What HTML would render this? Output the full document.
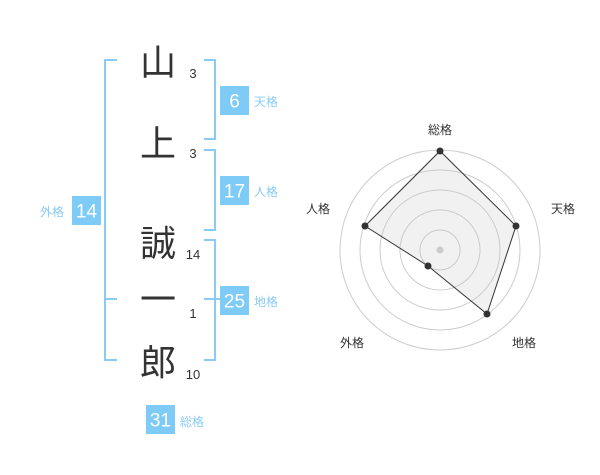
<!DOCTYPE html>
<html><head><meta charset="utf-8"><style>
body{margin:0;width:600px;height:470px;background:#fff;overflow:hidden}
svg text{font-family:"Liberation Sans","Noto Sans CJK JP",sans-serif}
</style></head><body>
<svg width="600" height="470" viewBox="0 0 600 470" xmlns="http://www.w3.org/2000/svg">
<g fill="none" stroke="#88ccf5" stroke-width="2">
<path d="M117 60H105V360H117M105 299H117"/>
<path d="M204 60H215V139H204"/>
<path d="M204 150H215V230H204"/>
<path d="M204 240H215V360H204M204 299H226"/>
</g>
<g fill="#333" font-size="36" text-anchor="middle">
<text x="158" y="75">山</text>
<text x="158" y="156">上</text>
<text x="158" y="256">誠</text>
<text x="158" y="312">一</text>
<text x="158" y="375">郎</text>
</g>
<g fill="#333" font-size="13" text-anchor="middle">
<text x="193" y="78">3</text>
<text x="193" y="158">3</text>
<text x="193" y="259">14</text>
<text x="193" y="318">1</text>
<text x="193" y="379">10</text>
</g>
<g fill="#7ecbf7">
<rect x="220" y="86" width="29" height="29"/>
<rect x="220" y="176" width="29" height="29"/>
<rect x="220" y="286" width="29" height="29"/>
<rect x="72" y="196" width="29" height="29"/>
<rect x="146" y="405" width="29" height="29"/>
</g>
<g fill="#fff" font-size="19" text-anchor="middle">
<text x="234.5" y="107.5">6</text>
<text x="234.5" y="197.5">17</text>
<text x="234.5" y="307.5">25</text>
<text x="86.5" y="217.5">14</text>
<text x="160.5" y="426.5">31</text>
</g>
<g fill="#88ccf5" font-size="12">
<text x="254" y="106">天格</text>
<text x="254" y="196">人格</text>
<text x="254" y="306">地格</text>
<text x="40" y="216">外格</text>
<text x="180" y="426">総格</text>
</g>
<g fill="none" stroke="#ccc" stroke-width="1">
<circle cx="440" cy="250" r="20"/><circle cx="440" cy="250" r="40"/>
<circle cx="440" cy="250" r="60"/><circle cx="440" cy="250" r="80"/>
<circle cx="440" cy="250" r="100"/>
</g>
<circle cx="440" cy="250" r="3.5" fill="#ccc"/>
<polygon points="440,151 516,226 487,314 428,266 365,226" fill="rgba(200,200,200,0.25)" stroke="#333" stroke-width="1"/>
<g fill="#333">
<circle cx="440" cy="151" r="3.5"/><circle cx="516" cy="226" r="3.5"/>
<circle cx="487" cy="314" r="3.5"/><circle cx="428" cy="266" r="3.5"/>
<circle cx="365" cy="226" r="3.5"/>
</g>
<g fill="#333" font-size="12" text-anchor="middle">
<text x="440" y="134">総格</text>
<text x="563" y="213">天格</text>
<text x="524" y="347">地格</text>
<text x="352" y="347">外格</text>
<text x="318" y="213">人格</text>
</g>
</svg>
</body></html>
